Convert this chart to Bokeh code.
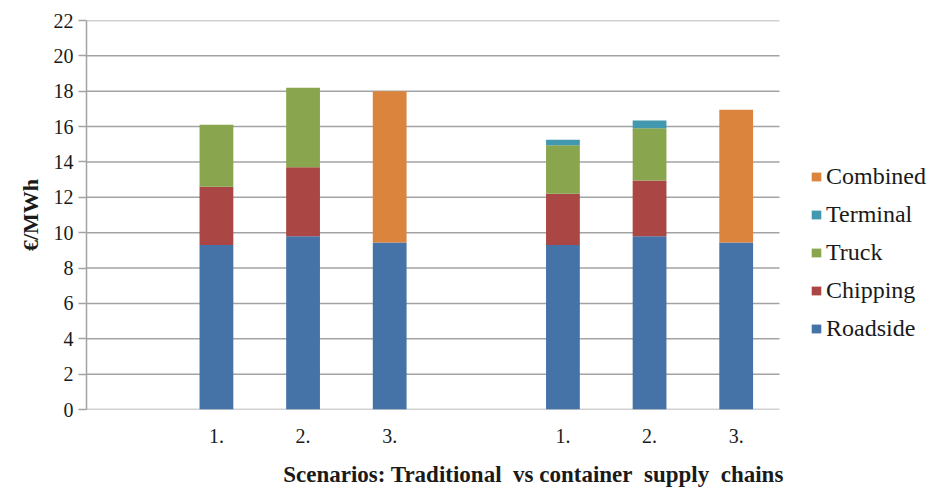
from bokeh.plotting import figure
from bokeh.models import (ColumnDataSource, Range1d, FixedTicker, Legend, LegendItem)
from bokeh.embed import file_html
from bokeh.resources import INLINE

# ---- data ----
slots = ["", "1.", "2.", "3.", "", "1.", "2.", "3."]
series = ["Roadside", "Chipping", "Truck", "Terminal", "Combined"]
roadside = [9.3, 9.8, 9.45, 9.3, 9.8, 9.45]
chipping = [3.3, 3.9, 0.0, 2.9, 3.15, 0.0]
truck = [3.5, 4.5, 0.0, 2.75, 2.95, 0.0]
terminal = [0.0, 0.0, 0.0, 0.3, 0.45, 0.0]
combined = [0.0, 0.0, 8.55, 0.0, 0.0, 7.5]
colors = ["#4572A7", "#AA4643", "#89A54E", "#4198AF", "#DB843D"]
y_ticks = list(range(0, 23, 2))
y_title = "€/MWh"
x_title = "Scenarios: Traditional\u00a0 vs container\u00a0 supply\u00a0 chains"

FONT = "Liberation Serif"
TXT = "#1a1a1a"
GRID = "#a3a3a3"
W, H = 934, 495
LEFT, TOP = 86, 20
BOTTOM = H - 409
SLOT_PX = 693 / len(slots)          # width of one category slot on screen

bar_x = [i for i, s in enumerate(slots) if s]
tick_labels = {i: s for i, s in enumerate(slots) if s}
x_start = -0.5
x_end = x_start + (W - LEFT) / SLOT_PX   # frame runs on to the right edge (legend area)

src = ColumnDataSource(dict(x=bar_x, Roadside=roadside, Chipping=chipping,
                            Truck=truck, Terminal=terminal, Combined=combined))

p = figure(width=W, height=H, x_range=Range1d(x_start, x_end),
           y_range=Range1d(0, 22), output_backend="svg", toolbar_location=None,
           min_border_left=LEFT, min_border_right=0, min_border_top=TOP,
           min_border_bottom=BOTTOM)
p.outline_line_color = None
p.background_fill_color = "white"
p.border_fill_color = "white"

# horizontal gridlines only across the category area
p.xgrid.visible = False
p.ygrid.visible = False
n = len(y_ticks)
p.segment(x0=[x_start] * n, x1=[len(slots) - 0.5] * n, y0=y_ticks, y1=y_ticks,
          line_color=GRID, line_width=1.5)

rs = p.vbar_stack(series, x="x", width=0.39, source=src, color=colors,
                  line_color=None)

ya = p.yaxis[0]
ya.ticker = FixedTicker(ticks=y_ticks)
ya.axis_line_color = GRID
ya.axis_line_width = 1.5
ya.major_tick_line_color = GRID
ya.major_tick_line_width = 1.5
ya.major_tick_out = 8
ya.major_tick_in = 0
ya.minor_tick_line_color = None
ya.major_label_text_font = FONT
ya.major_label_text_font_size = "20px"
ya.major_label_text_color = TXT
ya.major_label_standoff = 5
ya.axis_label = y_title
ya.axis_label_text_font = FONT
ya.axis_label_text_font_size = "22px"
ya.axis_label_text_font_style = "bold"
ya.axis_label_text_color = TXT
ya.axis_label_standoff = 8

xa = p.xaxis[0]
xa.ticker = FixedTicker(ticks=bar_x)
xa.major_label_overrides = tick_labels
xa.axis_line_color = None
xa.major_tick_line_color = None
xa.major_tick_out = 0
xa.major_tick_in = 0
xa.minor_tick_line_color = None
xa.major_label_text_font = FONT
xa.major_label_text_font_size = "20px"
xa.major_label_text_color = TXT
xa.major_label_standoff = 19
# title sits right of the frame centre, as in the source chart
xa.axis_label = "\u00a0" * 8 + x_title
xa.axis_label_text_font = FONT
xa.axis_label_text_font_size = "23px"
xa.axis_label_text_font_style = "bold"
xa.axis_label_text_color = TXT
xa.axis_label_standoff = 16

items = [LegendItem(label=name, renderers=[r]) for name, r in zip(series, rs)][::-1]
leg = Legend(items=items, location=(724, 67), orientation="vertical",
             label_text_font=FONT, label_text_font_size="24px", label_text_color=TXT,
             glyph_width=12, glyph_height=11, label_standoff=4, label_height=24,
             spacing=11, padding=0, margin=0,
             background_fill_alpha=0, border_line_color=None)
p.add_layout(leg)

open("out.html", "w").write(file_html(p, INLINE))
